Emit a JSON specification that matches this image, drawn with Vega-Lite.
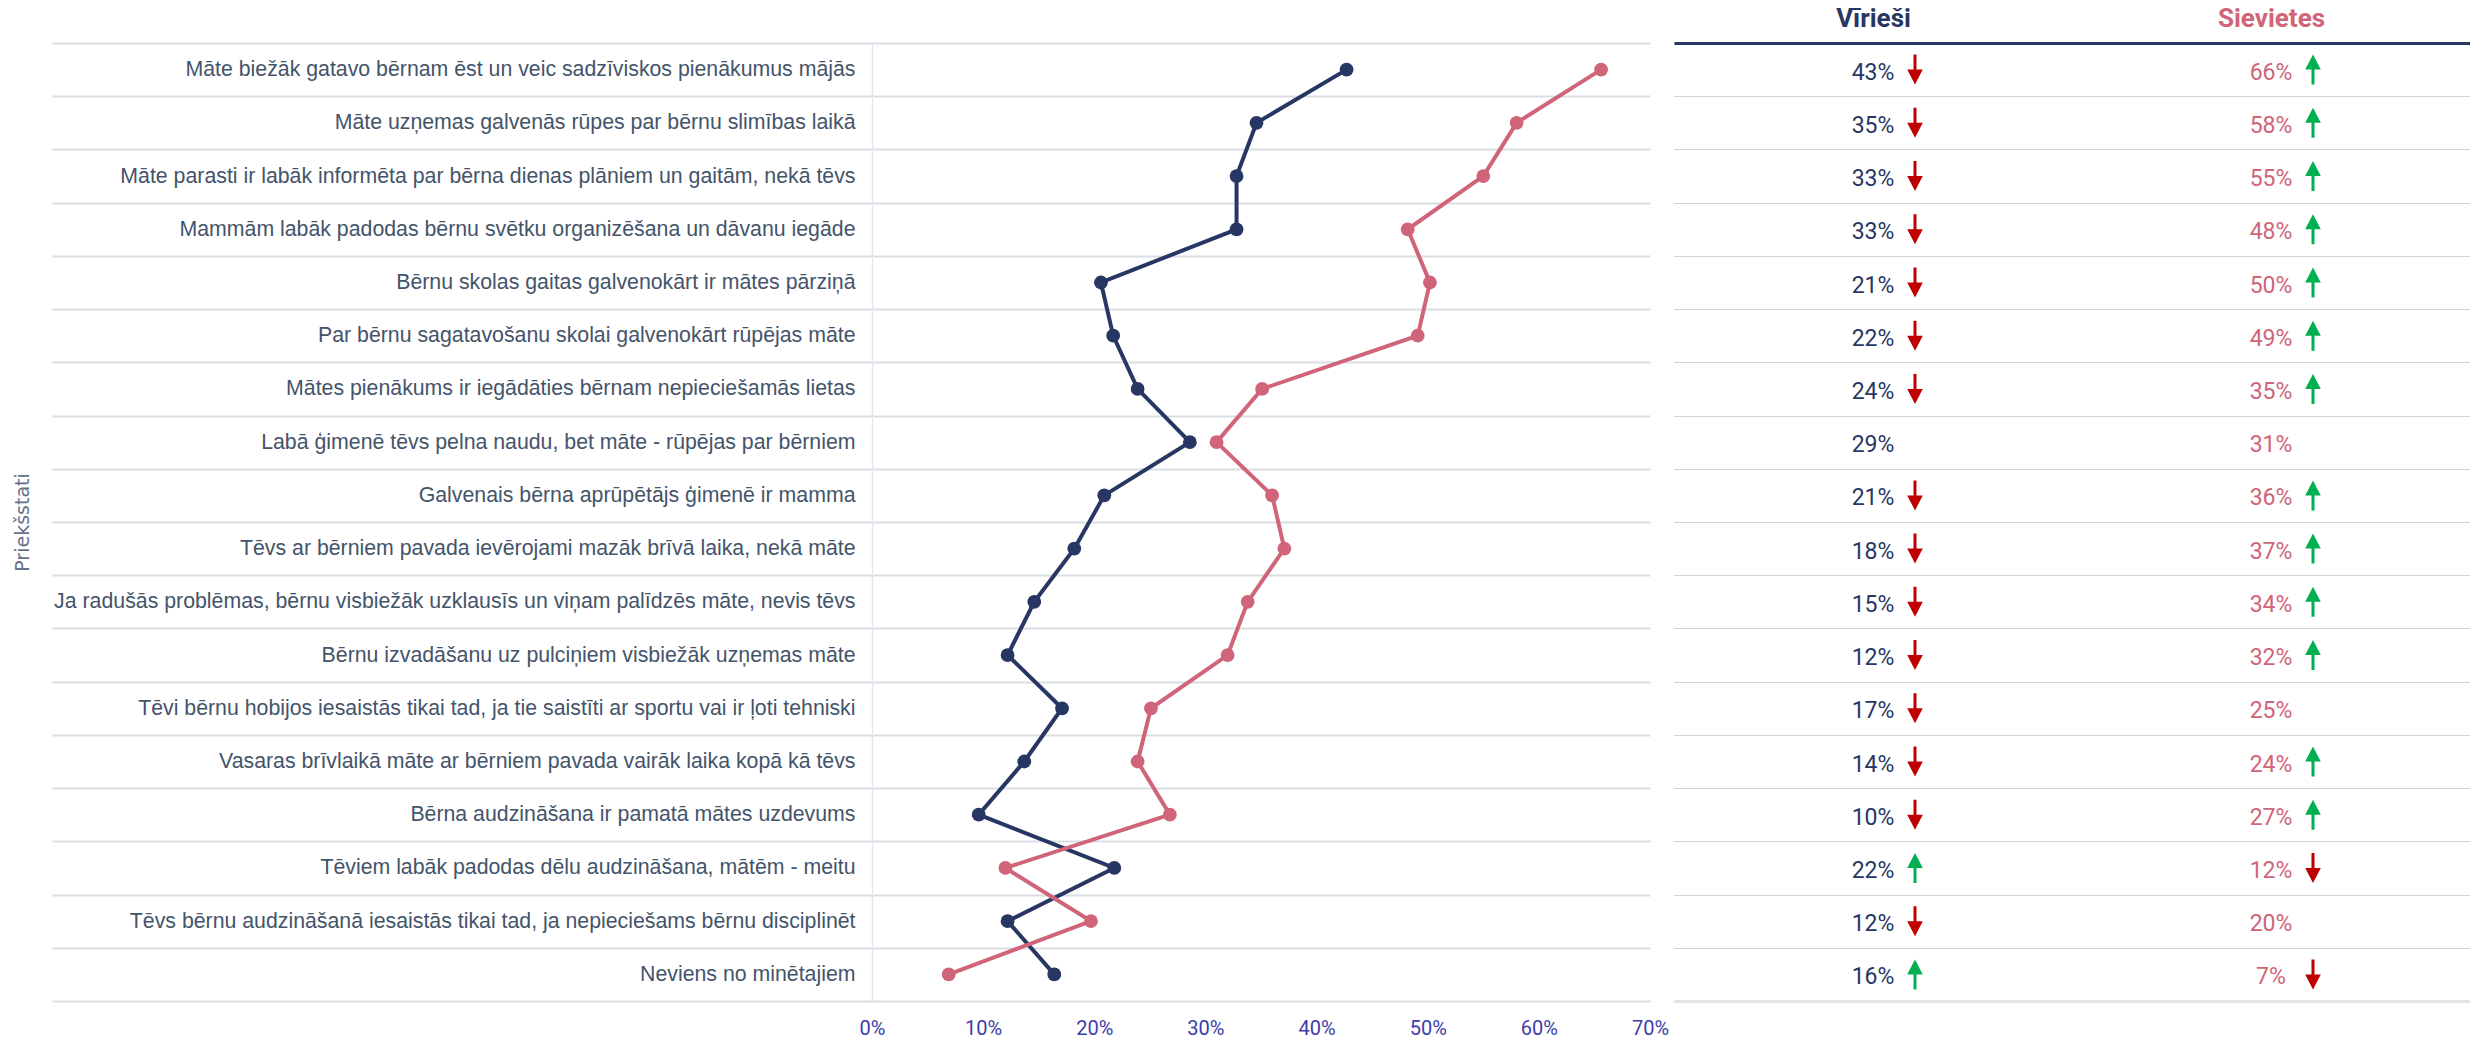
{
  "$schema": "https://vega.github.io/schema/vega-lite/v6.json",
  "padding": {"left": 13, "top": 5, "right": 0, "bottom": 0},
  "background": "white",
  "config": {"view": {"stroke": null}},
  "bounds": "flush",
  "spacing": 24,
  "data": {"values": [
    {"i": 1, "s": "Māte biežāk gatavo bērnam ēst un veic sadzīviskos pienākumus mājās", "g": "Vīrieši", "v": 0.427, "d": "down"},
    {"i": 1, "s": "Māte biežāk gatavo bērnam ēst un veic sadzīviskos pienākumus mājās", "g": "Sievietes", "v": 0.656, "d": "up"},
    {"i": 2, "s": "Māte uzņemas galvenās rūpes par bērnu slimības laikā ", "g": "Vīrieši", "v": 0.346, "d": "down"},
    {"i": 2, "s": "Māte uzņemas galvenās rūpes par bērnu slimības laikā ", "g": "Sievietes", "v": 0.580, "d": "up"},
    {"i": 3, "s": "Māte parasti ir labāk informēta par bērna dienas plāniem un gaitām, nekā tēvs", "g": "Vīrieši", "v": 0.328, "d": "down"},
    {"i": 3, "s": "Māte parasti ir labāk informēta par bērna dienas plāniem un gaitām, nekā tēvs", "g": "Sievietes", "v": 0.550, "d": "up"},
    {"i": 4, "s": "Mammām labāk padodas bērnu svētku organizēšana un dāvanu iegāde", "g": "Vīrieši", "v": 0.328, "d": "down"},
    {"i": 4, "s": "Mammām labāk padodas bērnu svētku organizēšana un dāvanu iegāde", "g": "Sievietes", "v": 0.482, "d": "up"},
    {"i": 5, "s": "Bērnu skolas gaitas galvenokārt ir mātes pārziņā", "g": "Vīrieši", "v": 0.206, "d": "down"},
    {"i": 5, "s": "Bērnu skolas gaitas galvenokārt ir mātes pārziņā", "g": "Sievietes", "v": 0.502, "d": "up"},
    {"i": 6, "s": "Par bērnu sagatavošanu skolai galvenokārt rūpējas māte", "g": "Vīrieši", "v": 0.217, "d": "down"},
    {"i": 6, "s": "Par bērnu sagatavošanu skolai galvenokārt rūpējas māte", "g": "Sievietes", "v": 0.491, "d": "up"},
    {"i": 7, "s": "Mātes pienākums ir iegādāties bērnam nepieciešamās lietas", "g": "Vīrieši", "v": 0.239, "d": "down"},
    {"i": 7, "s": "Mātes pienākums ir iegādāties bērnam nepieciešamās lietas", "g": "Sievietes", "v": 0.351, "d": "up"},
    {"i": 8, "s": "Labā ģimenē tēvs pelna naudu, bet māte - rūpējas par bērniem", "g": "Vīrieši", "v": 0.286, "d": "none"},
    {"i": 8, "s": "Labā ģimenē tēvs pelna naudu, bet māte - rūpējas par bērniem", "g": "Sievietes", "v": 0.310, "d": "none"},
    {"i": 9, "s": "Galvenais bērna aprūpētājs ģimenē ir mamma", "g": "Vīrieši", "v": 0.209, "d": "down"},
    {"i": 9, "s": "Galvenais bērna aprūpētājs ģimenē ir mamma", "g": "Sievietes", "v": 0.360, "d": "up"},
    {"i": 10, "s": "Tēvs ar bērniem pavada ievērojami mazāk brīvā laika, nekā māte", "g": "Vīrieši", "v": 0.182, "d": "down"},
    {"i": 10, "s": "Tēvs ar bērniem pavada ievērojami mazāk brīvā laika, nekā māte", "g": "Sievietes", "v": 0.371, "d": "up"},
    {"i": 11, "s": "Ja radušās problēmas, bērnu visbiežāk uzklausīs un viņam palīdzēs māte, nevis tēvs", "g": "Vīrieši", "v": 0.146, "d": "down"},
    {"i": 11, "s": "Ja radušās problēmas, bērnu visbiežāk uzklausīs un viņam palīdzēs māte, nevis tēvs", "g": "Sievietes", "v": 0.338, "d": "up"},
    {"i": 12, "s": "Bērnu izvadāšanu uz pulciņiem visbiežāk uzņemas māte", "g": "Vīrieši", "v": 0.122, "d": "down"},
    {"i": 12, "s": "Bērnu izvadāšanu uz pulciņiem visbiežāk uzņemas māte", "g": "Sievietes", "v": 0.320, "d": "up"},
    {"i": 13, "s": "Tēvi bērnu hobijos iesaistās tikai tad, ja tie saistīti ar sportu vai ir ļoti tehniski", "g": "Vīrieši", "v": 0.171, "d": "down"},
    {"i": 13, "s": "Tēvi bērnu hobijos iesaistās tikai tad, ja tie saistīti ar sportu vai ir ļoti tehniski", "g": "Sievietes", "v": 0.251, "d": "none"},
    {"i": 14, "s": "Vasaras brīvlaikā māte ar bērniem pavada vairāk laika kopā kā tēvs", "g": "Vīrieši", "v": 0.137, "d": "down"},
    {"i": 14, "s": "Vasaras brīvlaikā māte ar bērniem pavada vairāk laika kopā kā tēvs", "g": "Sievietes", "v": 0.239, "d": "up"},
    {"i": 15, "s": "Bērna audzināšana ir pamatā mātes uzdevums", "g": "Vīrieši", "v": 0.096, "d": "down"},
    {"i": 15, "s": "Bērna audzināšana ir pamatā mātes uzdevums", "g": "Sievietes", "v": 0.268, "d": "up"},
    {"i": 16, "s": "Tēviem labāk padodas dēlu audzināšana, mātēm - meitu", "g": "Vīrieši", "v": 0.218, "d": "up"},
    {"i": 16, "s": "Tēviem labāk padodas dēlu audzināšana, mātēm - meitu", "g": "Sievietes", "v": 0.120, "d": "down"},
    {"i": 17, "s": "Tēvs bērnu audzināšanā iesaistās tikai tad, ja nepieciešams bērnu disciplinēt", "g": "Vīrieši", "v": 0.122, "d": "down"},
    {"i": 17, "s": "Tēvs bērnu audzināšanā iesaistās tikai tad, ja nepieciešams bērnu disciplinēt", "g": "Sievietes", "v": 0.197, "d": "none"},
    {"i": 18, "s": "Neviens no minētajiem", "g": "Vīrieši", "v": 0.164, "d": "up"},
    {"i": 18, "s": "Neviens no minētajiem", "g": "Sievietes", "v": 0.069, "d": "down"}
  ]},
  "hconcat": [
    {
      "width": 778,
      "height": 958,
      "encoding": {
        "y": {
          "field": "s", "type": "nominal", "sort": null,
          "scale": {"type": "band", "paddingInner": 0, "paddingOuter": 0},
          "axis": {
            "title": "Priekšstati", "titleX": -850, "titleY": 479, "titleAngle": -90,
            "titleAlign": "center", "titleBaseline": "middle",
            "titleFont": "DejaVu Sans", "titleFontSize": 19, "titleFontWeight": "normal", "titleColor": "#66728A",
            "labelFont": "Liberation Sans", "labelFontSize": 21.3, "labelColor": "#44546A", "labelLimit": 900,
            "labelPadding": -803,
            "tickBand": "extent", "ticks": true, "tickSize": 820, "tickColor": "#DADDE5", "tickWidth": 2,
            "grid": true, "gridColor": "#DADDE5", "gridWidth": 2,
            "domain": true, "domainColor": "#E3E5EA", "domainWidth": 1.5
          }
        },
        "x": {
          "field": "v", "type": "quantitative",
          "scale": {"domain": [0, 0.7], "nice": false},
          "axis": {
            "format": ".0%", "values": [0, 0.1, 0.2, 0.3, 0.4, 0.5, 0.6, 0.7],
            "title": null, "domain": false, "ticks": false, "grid": false,
            "labelFont": "Roboto", "labelFontSize": 20, "labelColor": "#3D3DA8",
            "labelPadding": 17, "labelFlush": false
          }
        },
        "color": {
          "field": "g", "type": "nominal",
          "scale": {"domain": ["Vīrieši", "Sievietes"], "range": ["#283663", "#D06478"]},
          "legend": null
        },
        "order": {"field": "i", "type": "quantitative"}
      },
      "layer": [
        {"mark": {"type": "line", "strokeWidth": 4}},
        {"mark": {"type": "point", "filled": true, "opacity": 1, "size": 190}}
      ]
    },
    {
      "width": 796,
      "height": 958,
      "layer": [
        {
          "mark": {"type": "text", "font": "Roboto", "fontSize": 23, "baseline": "middle", "align": "center", "dy": 3},
          "encoding": {
            "x": {
              "field": "g", "type": "nominal", "sort": ["Vīrieši", "Sievietes"],
              "scale": {"domain": ["Vīrieši", "Sievietes"], "paddingInner": 0, "paddingOuter": 0},
              "axis": {
                "orient": "top", "title": null, "labelAngle": 0,
                "labelFont": "Roboto", "labelFontSize": 26, "labelFontWeight": "bold",
                "labelColor": {"condition": {"test": "datum.value === 'Vīrieši'", "value": "#283663"}, "value": "#D06478"},
                "labelPadding": 12, "ticks": false,
                "domain": true, "domainColor": "#283663", "domainWidth": 3, "zindex": 2
              }
            },
            "y": {
              "field": "s", "type": "nominal", "sort": null,
              "scale": {"type": "band", "paddingInner": 0, "paddingOuter": 0},
              "axis": {
                "title": null, "labels": false, "ticks": false, "domain": false,
                "grid": true, "tickBand": "extent", "gridColor": "#A6A6A6", "gridDash": [1, 1], "gridWidth": 1
              }
            },
            "text": {"field": "v", "type": "quantitative", "format": ".0%"},
            "color": {
              "field": "g", "type": "nominal",
              "scale": {"domain": ["Vīrieši", "Sievietes"], "range": ["#283663", "#D06478"]},
              "legend": null
            }
          }
        },
        {
          "transform": [{"filter": "datum.d !== 'none'"}],
          "mark": {"type": "point", "filled": true, "opacity": 1, "size": 900, "strokeWidth": 0},
          "encoding": {
            "x": {
              "field": "g", "type": "nominal", "sort": ["Vīrieši", "Sievietes"],
              "scale": {"domain": ["Vīrieši", "Sievietes"], "paddingInner": 0, "paddingOuter": 0},
              "axis": {
                "orient": "bottom", "title": null, "labels": false, "ticks": false,
                "domain": true, "domainColor": "#E4E4E4", "domainWidth": 3
              }
            },
            "y": {
              "field": "s", "type": "nominal", "sort": null,
              "scale": {"type": "band", "paddingInner": 0, "paddingOuter": 0}
            },
            "shape": {
              "field": "d", "type": "nominal",
              "scale": {"domain": ["down", "up"], "range": [
                "M2.7,-1 L2.9,-1 L2.9,0 L3.32,0 L2.8,1 L2.28,0 L2.7,0 Z",
                "M2.7,1 L2.9,1 L2.9,0 L3.32,0 L2.8,-1 L2.28,0 L2.7,0 Z"
              ]},
              "legend": null
            },
            "fill": {
              "field": "d", "type": "nominal",
              "scale": {"domain": ["down", "up"], "range": ["#C00000", "#00B050"]},
              "legend": null
            }
          }
        }
      ],
      "resolve": {"axis": {"x": "independent"}}
    }
  ]
}
